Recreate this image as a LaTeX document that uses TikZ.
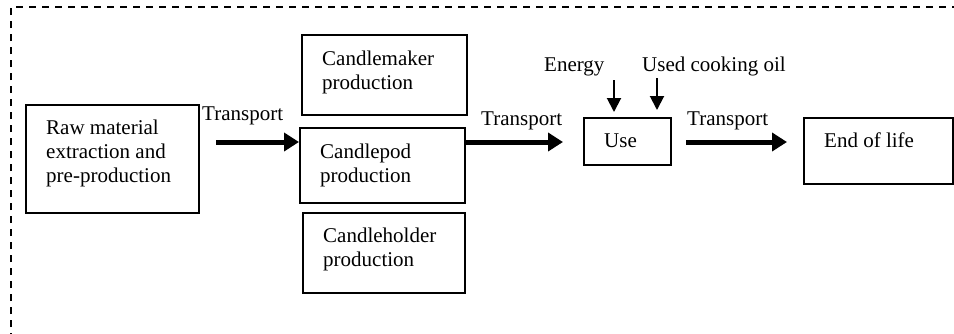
\documentclass[tikz,border=0pt]{standalone}
\usepackage{fontspec}
\setmainfont{Liberation Serif}
\usetikzlibrary{arrows.meta}
\begin{document}
\begin{tikzpicture}[x=1pt,y=-1pt,
  box/.style={draw,line width=1.6pt,inner sep=0pt,anchor=north west},
  txt/.style={inner sep=0pt,anchor=base west,font=\fontsize{21}{24}\selectfont,align=left},
  bigarrow/.style={line width=5pt,-{Triangle[length=15pt 0,width=18pt 0]}},
  smallarrow/.style={line width=2pt,-{Triangle[length=14pt 0,width=14pt 0]}},
  border/.style={line width=1.6pt,dash pattern=on 7pt off 6pt}]
\useasboundingbox (0,0) rectangle (954,333);
\draw[border] (11,340) -- (11,7) -- (960,7);
% boxes
\node[box,minimum width=173pt,minimum height=108pt] (raw) at (25,104) {};
\node[box,minimum width=165pt,minimum height=80pt] (maker) at (301,34) {};
\node[box,minimum width=165pt,minimum height=75pt] (pod) at (299,127) {};
\node[box,minimum width=162pt,minimum height=80pt] (holder) at (302,212) {};
\node[box,minimum width=87pt,minimum height=47pt] (use) at (583,117) {};
\node[box,minimum width=149pt,minimum height=66pt] (eol) at (803,117) {};
% texts
\node[txt] (rawt) at (46,134) {Raw material};
\node[txt] (rawt2) at (46,158) {extraction and};
\node[txt] (rawt3) at (46,182) {pre-production};
\node[txt] (makert) at (322,65) {Candlemaker};
\node[txt] (makert2) at (322,89) {production};
\node[txt] (podt) at (320,158) {Candlepod};
\node[txt] (podt2) at (320,182) {production};
\node[txt] (holdert) at (323,242) {Candleholder};
\node[txt] (holdert2) at (323,266) {production};
\node[txt] (uset) at (604,147) {Use};
\node[txt] (eolt) at (824,147) {End of life};
\node[txt] (tr1) at (202,120) {Transport};
\node[txt] (tr2) at (481,125) {Transport};
\node[txt] (tr3) at (687,125) {Transport};
\node[txt] (energy) at (544,71) {Energy};
\node[txt] (oil) at (642,71) {Used cooking oil};
% arrows
\coordinate (a1) at (216,142);
\coordinate (a3) at (686,142);
\coordinate (a3e) at (787,142);
\coordinate (a2e) at (563,142);
\coordinate (e1) at (614,80);
\coordinate (e2) at (614,112);
\coordinate (o1) at (657,78);
\coordinate (o2) at (657,110);
\draw[bigarrow] (a1) -- (a1 -| pod.west);
\draw[bigarrow] (a1 -| pod.east) -- (a2e);
\draw[bigarrow] (a3) -- (a3e);
\draw[smallarrow] (e1) -- (e2);
\draw[smallarrow] (o1) -- (o2);
\end{tikzpicture}
\end{document}
